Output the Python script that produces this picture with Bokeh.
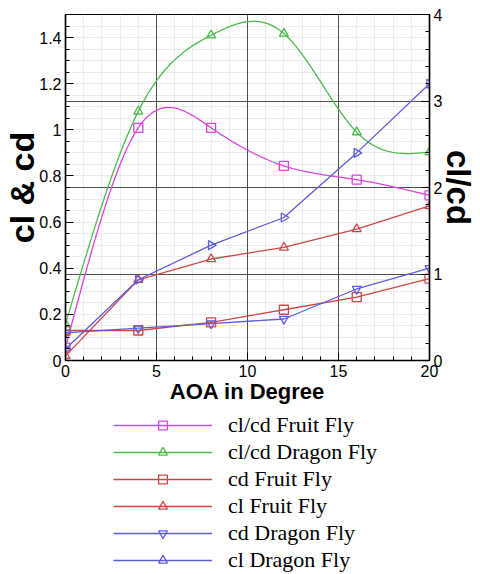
import numpy as np
from bokeh.plotting import figure
from bokeh.layouts import column
from bokeh.models import Range1d, LinearAxis, FixedTicker, Grid, Legend, LegendItem
from bokeh.embed import file_html
from bokeh.resources import INLINE

# ---- data ----
aoa = [0, 4, 8, 12, 16, 20]
clcd_fruit = [0.15, 2.69, 2.69, 2.25, 2.09, 1.91]      # right axis
clcd_dragon = [0.42, 2.88, 3.76, 3.78, 2.64, 2.41]     # right axis
cd_fruit = [0.13, 0.13, 0.165, 0.22, 0.275, 0.355]     # left axis
cl_fruit = [0.02, 0.35, 0.44, 0.49, 0.57, 0.67]
cd_dragon = [0.12, 0.14, 0.16, 0.18, 0.31, 0.40]
cl_dragon = [0.05, 0.35, 0.50, 0.62, 0.90, 1.20]

x_ticks = [0, 5, 10, 15, 20]
left_ticks = [0, 0.2, 0.4, 0.6, 0.8, 1.0, 1.2, 1.4]
right_ticks = [0, 1, 2, 3, 4]

MAGENTA = "#dd44dd"
GREEN = "#4cbb4c"
RED = "#cc4848"
BLUE = "#5c5ce0"


def natural_spline(x, y, n=300):
    x = np.asarray(x, float); y = np.asarray(y, float)
    h = np.diff(x); m = len(x)
    A = np.zeros((m, m)); b = np.zeros(m)
    A[0, 0] = A[-1, -1] = 1
    for i in range(1, m - 1):
        A[i, i - 1] = h[i - 1]; A[i, i] = 2 * (h[i - 1] + h[i]); A[i, i + 1] = h[i]
        b[i] = 6 * ((y[i + 1] - y[i]) / h[i] - (y[i] - y[i - 1]) / h[i - 1])
    M = np.linalg.solve(A, b)
    xs = np.linspace(x[0], x[-1], n)
    idx = np.clip(np.searchsorted(x, xs) - 1, 0, m - 2)
    x0 = x[idx]; x1 = x[idx + 1]; hh = x1 - x0
    a = (x1 - xs) / hh; bb = (xs - x0) / hh
    ys = a * y[idx] + bb * y[idx + 1] + ((a ** 3 - a) * M[idx] + (bb ** 3 - bb) * M[idx + 1]) * hh ** 2 / 6
    return xs, ys


p = figure(width=480, height=410, output_backend="svg", toolbar_location=None,
           x_range=Range1d(0, 20), y_range=Range1d(0, 1.5),
           min_border_left=65, min_border_right=45, min_border_top=14, min_border_bottom=50)
p.extra_y_ranges = {"r": Range1d(0, 4)}
p.outline_line_color = "black"
p.outline_line_width = 1.2
p.background_fill_color = "white"
p.border_fill_color = "white"

# light minor grids first, dark major grids on top
p.xgrid.grid_line_color = None
p.xgrid.ticker = FixedTicker(ticks=[], minor_ticks=[i for i in range(1, 20) if i % 5 != 0])
p.xgrid.minor_grid_line_color = "#ebebeb"
p.ygrid.grid_line_color = None
p.ygrid.ticker = FixedTicker(ticks=[], minor_ticks=[round(0.05 * i, 2) for i in range(1, 30)])
p.ygrid.minor_grid_line_color = "#ebebeb"
p.add_layout(Grid(dimension=0, ticker=FixedTicker(ticks=[5, 10, 15]),
                  grid_line_color="#505050", grid_line_width=1))
p.add_layout(Grid(dimension=1, y_range_name="r", ticker=FixedTicker(ticks=[1, 2, 3]),
                  grid_line_color="#505050", grid_line_width=1))

TICK_FONT = "Liberation Sans"


def style_axis(ax):
    ax.major_tick_in = 8
    ax.major_tick_out = 0
    ax.minor_tick_in = 4
    ax.minor_tick_out = 0
    ax.axis_line_color = "black"
    ax.axis_line_width = 1.5
    ax.major_tick_line_color = "black"
    ax.minor_tick_line_color = "black"
    ax.major_label_text_font = TICK_FONT
    ax.major_label_text_font_size = "16px"
    ax.major_label_text_color = "black"
    ax.axis_label_text_font = TICK_FONT
    ax.axis_label_text_font_style = "bold"
    ax.axis_label_text_color = "black"
    ax.major_label_standoff = 4


xa = p.xaxis[0]
xa.ticker = FixedTicker(ticks=x_ticks, minor_ticks=list(range(21)))
style_axis(xa)
xa.axis_label = "AOA in Degree"
xa.axis_label_text_font_size = "22px"
xa.axis_label_standoff = -1

ya = p.yaxis[0]
ya.ticker = FixedTicker(ticks=left_ticks, minor_ticks=[round(0.05 * i, 2) for i in range(31)])
style_axis(ya)
ya.major_label_overrides = {0: "0", 1.0: "1"}
ya.axis_label = "cl & cd"
ya.axis_label_text_font_size = "34px"
ya.axis_label_standoff = -5

ra = LinearAxis(y_range_name="r",
                ticker=FixedTicker(ticks=right_ticks, minor_ticks=[round(0.2 * i, 1) for i in range(21)]))
style_axis(ra)
ra.axis_label = "cl/cd"
ra.axis_label_text_font_size = "33px"
ra.axis_label_standoff = -5
p.add_layout(ra, "right")

LW = 1.3
MS = 9

# legend figure: hidden copies of the series only provide the legend samples
lg = figure(width=480, height=164, output_backend="svg", toolbar_location=None,
            x_axis_location=None, y_axis_location=None,
            x_range=Range1d(0, 20), y_range=Range1d(0, 1.5),
            min_border_left=65, min_border_right=45, min_border_top=0, min_border_bottom=0)
lg.outline_line_color = None
lg.grid.visible = False

items = []


def series(label, xs, ys, color, marker, smooth=False, right=False, angle=0.0):
    kw = {"y_range_name": "r"} if right else {}
    if smooth:
        sx, sy = natural_spline(xs, ys)
    else:
        sx, sy = xs, ys
    p.line(list(sx), list(sy), line_color=color, line_width=LW, **kw)
    p.scatter(xs, ys, marker=marker, size=MS, angle=angle, line_color=color,
              line_width=1.3, fill_color="white", fill_alpha=0.0, **kw)
    l2 = lg.line(xs, ys, line_color=color, line_width=LW, visible=False)
    s2 = lg.scatter(xs, ys, marker=marker, line_color=color, line_width=1.3,
                    fill_color="white", fill_alpha=0.0, visible=False)
    items.append(LegendItem(label=label, renderers=[l2, s2]))


series("cl/cd Fruit Fly", aoa, clcd_fruit, MAGENTA, "square", smooth=True, right=True)
series("cl/cd Dragon Fly", aoa, clcd_dragon, GREEN, "triangle", smooth=True, right=True)
series("cd Fruit Fly", aoa, cd_fruit, RED, "square")
series("cl Fruit Fly", aoa, cl_fruit, RED, "triangle")
series("cd Dragon Fly", aoa, cd_dragon, BLUE, "inverted_triangle")
series("cl Dragon Fly", aoa, cl_dragon, BLUE, "triangle", angle=-np.pi / 2)

legend = Legend(items=items, location=(48, 1), orientation="vertical",
                glyph_width=99, glyph_height=22, label_height=26, spacing=1,
                label_standoff=16, padding=0, margin=0,
                label_text_font="Liberation Serif", label_text_font_size="22px",
                label_text_color="black", border_line_color=None,
                background_fill_alpha=0.0, inactive_fill_alpha=0.0,
                click_policy="none")
lg.add_layout(legend)

open("out.html", "w").write(file_html(column(p, lg, spacing=0), INLINE))
